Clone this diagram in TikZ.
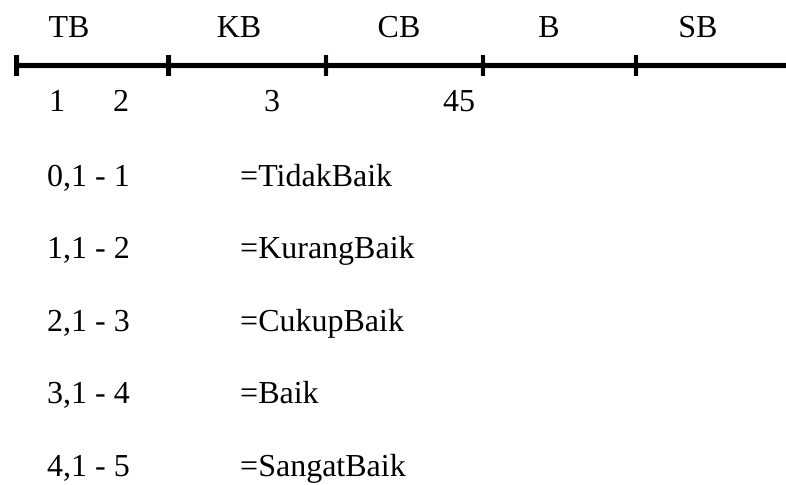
\documentclass[tikz,border=0pt]{standalone}
\usepackage{fontspec}
\setmainfont{Liberation Serif}
\begin{document}
\begin{tikzpicture}[x=1pt,y=-1pt,
  lbl/.style={inner sep=0pt,anchor=base,font=\fontsize{32}{38}\selectfont},
  rowtxt/.style={inner sep=0pt,anchor=base west,font=\fontsize{32}{38}\selectfont},
  axis/.style={line width=5pt,black},
  tick/.style={line width=4.5pt,black},
  shade/.style={line width=7pt,black,opacity=0.08}]
\useasboundingbox (0,0) rectangle (786,484);

% scale line end points and tick positions
\coordinate (L) at (16.5,65.5);
\coordinate (R) at (790,65.5);
\foreach \n/\x in {t1/16.5,t2/168.5,t3/326,t4/483,t5/636}{
  \coordinate (\n a) at (\x,55);
  \coordinate (\n b) at (\x,76);
}

% soft shadow under the scale
\begin{scope}[shift={(2,3)}]
  \draw[shade] (L) -- (R);
  \foreach \n in {t1,t2,t3,t4,t5} \draw[shade,line width=6pt] (\n a) -- (\n b);
\end{scope}

% the scale
\draw[axis] (L) -- (R);
\foreach \n in {t1,t2,t3,t4,t5} \draw[tick] (\n a) -- (\n b);

% category labels above
\node[lbl] (tb) at (69,38) {TB};
\node[lbl] (kb) at (239,38) {KB};
\node[lbl] (cb) at (399,38) {CB};
\node[lbl] (b)  at (549,38) {B};
\node[lbl] (sb) at (698,38) {SB};

% score marks below
\node[lbl] (n1) at (57,112) {1};
\node[lbl] (n2) at (121,112) {2};
\node[lbl] (n3) at (272,112) {3};
\node[lbl] (n45) at (459,112) {45};

% score ranges
\node[rowtxt] (r1) at (47,186) {0,1 - 1};
\node[rowtxt] (r2) at (47,258.5) {1,1 - 2};
\node[rowtxt] (r3) at (47,331) {2,1 - 3};
\node[rowtxt] (r4) at (47,403.5) {3,1 - 4};
\node[rowtxt] (r5) at (47,476) {4,1 - 5};

\node[rowtxt] (c1) at (240,186) {=TidakBaik};
\node[rowtxt] (c2) at (240,258.5) {=KurangBaik};
\node[rowtxt] (c3) at (240,331) {=CukupBaik};
\node[rowtxt] (c4) at (240,403.5) {=Baik};
\node[rowtxt] (c5) at (240,476) {=SangatBaik};
\end{tikzpicture}
\end{document}
